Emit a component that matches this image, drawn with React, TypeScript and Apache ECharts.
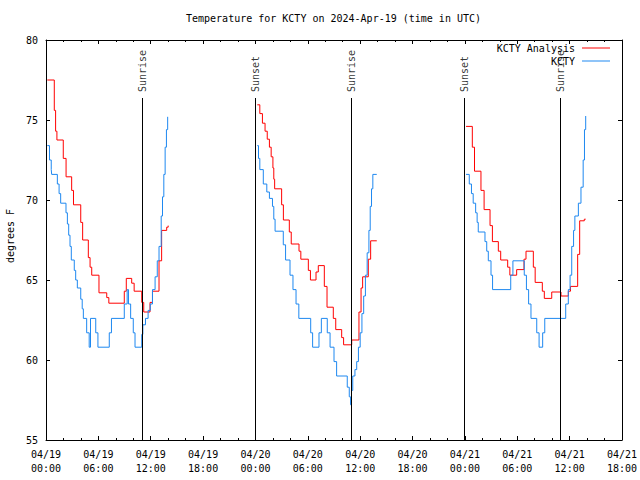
import React, { useEffect, useRef } from "react";
import * as echarts from "echarts";

// Hours since 04/19 00:00 UTC; null = gap between days
const analysisHours = [
  0.15, 0.95, 1.1, 1.25, 1.98, 2.3, 2.94, 3.15, 3.98, 4.2, 4.85, 5.05, 5.24, 6.07, 6.96, 7.2, 8.97, 9.2, 9.82, 10.1,
  10.97, 11.2, 11.92, 12.2, 12.95, 13.25, 13.83, 14.0, 14.0,
  24.21, 24.5, 24.8, 25.1, 25.35, 25.6, 25.8, 26.0, 26.1, 26.2, 27.0, 27.2, 27.88, 28.1, 28.99, 29.2, 30.06, 30.3,
  30.94, 31.2, 31.89, 32.2, 32.92, 33.2, 33.88, 34.1, 35.03, 35.86, 36.1, 36.28, 36.93, 37.2, 37.9, 37.9,
  48.13, 48.85, 49.1, 49.84, 50.2, 50.88, 51.15, 51.83, 52.1, 52.9, 53.15, 53.93, 54.77, 55.0, 55.84, 56.05, 56.87,
  57.1, 57.95, 59.01, 59.85, 60.1, 60.92, 61.15, 61.68, 61.84,
];
const analysisTemps = [
  77.5, 75.6, 74.3, 73.75, 72.6, 71.45, 70.6, 69.7, 68.6, 67.5, 66.4, 65.8, 65.3, 64.2, 63.9, 63.55, 64.3, 65.1, 64.8, 64.3,
  63.6, 63.0, 63.6, 64.3, 66.2, 68.1, 68.3, 68.4, null,
  75.95, 75.4, 74.8, 74.3, 73.8, 73.3, 72.7, 72.0, 71.3, 70.7, 69.7, 68.75, 68.0, 67.25, 66.8, 66.3, 65.6, 65.0,
  65.5, 65.9, 64.6, 63.3, 62.6, 61.9, 61.4, 60.95, 61.25, 63.0, 64.5, 65.2, 66.3, 67.45, 67.45, null,
  74.6, 73.3, 71.8, 70.6, 69.4, 68.4, 67.4, 66.8, 66.25, 65.8, 65.3, 65.65, 66.3, 66.8, 65.8, 64.85, 64.3,
  63.85, 64.25, 64.0, 64.3, 64.6, 66.6, 68.7, 68.8, 68.8,
];
const obsHours = [
  0.15, 0.4, 0.6, 0.65, 1.3, 1.5, 1.68, 2.29, 2.45, 2.6, 2.75, 2.9, 3.24, 3.4, 3.59, 3.98, 4.15, 4.28, 4.66, 4.95, 5.1,
  5.7, 5.95, 7.25, 7.5, 8.97, 9.3, 9.45, 9.7, 10.0, 10.2, 10.97, 11.1, 11.4, 11.7, 11.95, 12.2, 12.5, 12.75, 12.95,
  13.2, 13.35, 13.5, 13.65, 13.8, 13.94, 13.94,
  24.21, 24.35, 24.5, 24.9, 25.3, 25.6, 25.95, 26.1, 26.25, 27.19, 27.45, 27.96, 28.3, 28.65, 28.97, 30.33, 30.55,
  31.28, 31.55, 32.23, 32.55, 33.0, 33.3, 34.52, 34.75, 34.9, 35.0, 35.15, 35.4, 35.6, 35.8, 36.0, 36.2, 36.4, 36.6,
  36.8, 37.0, 37.15, 37.3, 37.45, 37.9, 37.9,
  48.13, 48.5, 48.75, 48.95, 49.23, 49.4, 49.53, 50.3, 50.5, 50.68, 50.99, 51.17, 53.25, 53.5, 54.8, 55.05, 55.3,
  55.57, 56.23, 56.5, 56.91, 57.15, 59.55, 59.85, 60.05, 60.24, 60.45, 60.6, 61.0, 61.3, 61.55, 61.7, 61.84,
];
const obsTemps = [
  73.4, 72.5, 71.9, 71.6, 71.0, 70.4, 69.8, 69.2, 68.5, 67.8, 67.1, 66.25, 65.6, 65.0, 64.5, 63.8, 63.2, 62.6, 61.7, 60.8, 62.6,
  61.7, 60.8, 61.7, 62.6, 63.5, 64.4, 63.5, 62.6, 61.7, 60.8, 61.6, 62.2, 62.6, 63.1, 63.5, 64.4, 65.2, 66.2, 67.1,
  69.0, 70.2, 71.6, 73.3, 74.4, 75.2, null,
  73.4, 72.6, 71.9, 71.0, 70.5, 70.1, 69.6, 68.8, 68.05, 67.2, 66.25, 65.3, 64.4, 63.5, 62.6, 61.7, 60.8,
  61.7, 62.6, 61.7, 60.8, 59.9, 59.0, 58.3, 57.7, 57.2, 58.1, 59.0, 59.4, 59.9, 60.8, 61.7, 62.9, 64.0, 65.3,
  66.7, 68.1, 69.6, 70.7, 71.6, 71.6, null,
  71.6, 71.0, 70.4, 69.8, 69.2, 68.6, 68.0, 67.4, 66.8, 66.2, 65.3, 64.4, 65.3, 66.2, 65.3, 64.4, 63.5,
  62.6, 61.7, 60.8, 61.7, 62.6, 63.5, 64.4, 65.3, 67.1, 68.1, 69.0, 69.8, 70.8, 72.5, 74.4, 75.25,
];
const sunHours = [11.05, 23.97, 34.97, 47.95, 58.93];
const sunLabels = ["Sunrise", "Sunset", "Sunrise", "Sunset", "Sunrise"];
const seriesNames = ["KCTY Analysis", "KCTY"];
const xTickLabels = [
  "04/19\n00:00", "04/19\n06:00", "04/19\n12:00", "04/19\n18:00",
  "04/20\n00:00", "04/20\n06:00", "04/20\n12:00", "04/20\n18:00",
  "04/21\n00:00", "04/21\n06:00", "04/21\n12:00", "04/21\n18:00",
];
const title = "Temperature for KCTY on 2024-Apr-19 (time in UTC)";
const yName = "degrees F";

const FONT = "DejaVu Sans Mono";

export default function App() {
  const ref = useRef<HTMLDivElement>(null);
  useEffect(() => {
    document.body.style.margin = "0";
    const chart = echarts.init(ref.current!, null, { renderer: "svg" });
    const toData = (hs: number[], ts: (number | null)[]) =>
      hs.map((h, i) => [h, ts[i] === null ? "-" : ts[i]]);
    const xBase = {
      type: "value",
      min: 0,
      max: 66,
      interval: 6,
      splitLine: { show: false },
      axisLine: { show: true, onZero: false, lineStyle: { color: "#000", width: 1 } },
      axisTick: { show: true, inside: true, length: 4, lineStyle: { color: "#000" } },
      minorTick: { show: true, splitNumber: 3, length: 2, lineStyle: { color: "#000" } },
    };
    const yBase = {
      type: "value",
      min: 55,
      max: 80,
      interval: 5,
      splitLine: { show: false },
      axisLine: { show: true, onZero: false, lineStyle: { color: "#000", width: 1 } },
      axisTick: { show: true, inside: true, length: 4, lineStyle: { color: "#000" } },
    };
    const legendBase = {
      right: 30,
      padding: 0,
      align: "right",
      icon: "rect",
      itemWidth: 28,
      itemHeight: 1,
      itemGap: 7,
      textStyle: { fontFamily: FONT, fontSize: 10, color: "#000", padding: [0, 2, 0, 0] },
    };
    chart.setOption({
      animation: false,
      backgroundColor: "#fff",
      textStyle: { fontFamily: FONT },
      title: {
        text: title,
        left: 186,
        top: 13,
        padding: 0,
        textStyle: { fontFamily: FONT, fontSize: 10, fontWeight: "normal", color: "#000" },
      },
      legend: [
        { ...legendBase, data: [seriesNames[0]], top: 43 },
        { ...legendBase, data: [seriesNames[1]], top: 56 },
      ],
      grid: {
        left: 46,
        right: 18,
        top: 40,
        bottom: 40,
        containLabel: false,
        outerBoundsMode: "none",
      },
      xAxis: [
        {
          ...xBase,
          position: "bottom",
          axisLabel: {
            show: true,
            margin: 7,
            fontFamily: FONT,
            fontSize: 10,
            lineHeight: 14,
            color: "#000",
            showMinLabel: true,
            showMaxLabel: true,
            formatter: (v: number) => xTickLabels[Math.round(v / 6)] ?? "",
          },
        },
        { ...xBase, position: "top", axisLabel: { show: false } },
      ],
      yAxis: [
        {
          ...yBase,
          position: "left",
          name: yName,
          nameLocation: "middle",
          nameGap: 29,
          nameTextStyle: { fontFamily: FONT, fontSize: 10, color: "#000", padding: [0, 0, 0, 8] },
          axisLabel: { show: true, margin: 8, fontFamily: FONT, fontSize: 10, color: "#000" },
        },
        { ...yBase, position: "right", axisLabel: { show: false } },
      ],
      series: [
        {
          name: seriesNames[0],
          type: "line",
          step: "end",
          symbol: "none",
          connectNulls: false,
          color: "#ff0000",
          lineStyle: { color: "#ff0000", width: 1 },
          data: toData(analysisHours, analysisTemps),
          z: 3,
        },
        {
          name: seriesNames[1],
          type: "line",
          step: "end",
          symbol: "none",
          connectNulls: false,
          color: "#1e88f0",
          lineStyle: { color: "#1e88f0", width: 1 },
          data: toData(obsHours, obsTemps),
          z: 4,
        },
        {
          name: "sun",
          type: "scatter",
          symbolSize: 0,
          silent: true,
          data: sunHours.map((h, i) => [h, 76.375, sunLabels[i]]),
          label: {
            show: true,
            position: "top",
            distance: 6,
            rotate: 90,
            align: "left",
            verticalAlign: "middle",
            fontFamily: FONT,
            fontSize: 10,
            color: "#000",
            formatter: (p: any) => p.value[2],
          },
          markLine: {
            silent: true,
            symbol: ["none", "none"],
            label: { show: false },
            lineStyle: { color: "#000", width: 1, type: "solid" },
            data: sunHours.map((h) => [{ coord: [h, 76.375] }, { coord: [h, 55] }]),
          },
          z: 2,
        },
      ],
    });
    return () => chart.dispose();
  }, []);
  return (
    <div
      ref={ref}
      style={{ width: 640, height: 480, position: "fixed", left: 0, top: 0, background: "#fff" }}
    />
  );
}
